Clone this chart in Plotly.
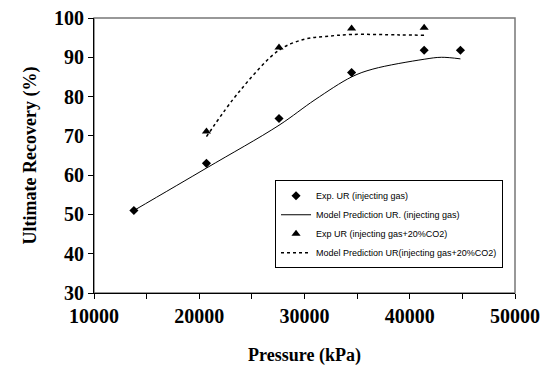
import plotly.graph_objects as go

# Experimental data (pressure kPa, ultimate recovery %)
exp_gas_p = [13790, 20684, 27579, 34474, 41369, 44816]
exp_gas_ur = [51.0, 63.0, 74.4, 86.1, 91.8, 91.8]

model_gas_p = [13790, 20684, 27579, 31000, 34474, 36500, 41369, 43000, 44816]
model_gas_ur = [51.0, 61.8, 72.7, 79.2, 85.0, 87.0, 89.5, 90.0, 89.6]

exp_co2_p = [20684, 27579, 34474, 41369]
exp_co2_ur = [71.1, 92.5, 97.3, 97.5]

model_co2_p = [20684, 23870, 27579, 30000, 32000, 34474, 39000, 41369]
model_co2_ur = [69.8, 81.5, 91.8, 94.6, 95.3, 95.8, 95.7, 95.6]

names = [
    "Exp. UR (injecting gas)",
    "Model Prediction UR. (injecting gas)",
    "Exp UR (injecting gas+20%CO2)",
    "Model Prediction UR(injecting gas+20%CO2)",
]

x_ticks = [10000, 20000, 30000, 40000, 50000]
y_ticks = [30, 40, 50, 60, 70, 80, 90, 100]

fig = go.Figure()
fig.add_trace(go.Scatter(x=exp_gas_p, y=exp_gas_ur, mode="markers", name=names[0],
                         legendgroup="a",
                         marker=dict(symbol="diamond", size=7, color="black")))
fig.add_trace(go.Scatter(x=model_gas_p, y=model_gas_ur, mode="lines", name=names[1],
                         legendgroup="b", line_shape="spline",
                         line=dict(color="black", width=1)))
fig.add_trace(go.Scatter(x=exp_co2_p, y=exp_co2_ur, mode="markers", name=names[2],
                         legendgroup="c",
                         marker=dict(symbol="triangle-up", size=8, color="black")))
fig.add_trace(go.Scatter(x=model_co2_p, y=model_co2_ur, mode="lines", name=names[3],
                         legendgroup="d", line_shape="spline",
                         line=dict(color="black", width=1.5, dash="dot")))

tickfont = dict(family="Liberation Serif", size=20, color="black")
titlefont = dict(family="Liberation Serif", size=18, color="black")

fig.update_layout(
    width=551, height=364,
    margin=dict(l=86, r=44, t=10, b=79),
    paper_bgcolor="white", plot_bgcolor="white",
    showlegend=True,
    legend=dict(x=0.43, y=0.41, xanchor="left", yanchor="top",
                bordercolor="black", borderwidth=1, bgcolor="white",
                font=dict(family="Liberation Sans", size=9, color="black"),
                tracegroupgap=16, traceorder="normal"),
    xaxis=dict(range=[10000, 50000], tickvals=x_ticks, ticktext=["<b>%d</b>" % v for v in x_ticks],
               ticks="outside", ticklen=5, tickcolor="black", showgrid=False, zeroline=False,
               showline=True, linecolor="black", linewidth=1, tickfont=tickfont, automargin=False,
               ticklabeloverflow="allow",
               minor=dict(dtick=5000, tick0=10000, ticks="outside", ticklen=5, tickcolor="black"),
               title=dict(text="<b>Pressure (kPa)</b>", font=titlefont, standoff=22)),
    yaxis=dict(range=[30, 100], tickvals=y_ticks, ticktext=["<b>%d</b>" % v for v in y_ticks],
               ticks="outside", ticklen=5, tickcolor="black", showgrid=False, zeroline=False,
               showline=True, linecolor="black", linewidth=1, tickfont=tickfont, automargin=False,
               ticklabeloverflow="allow",
               title=dict(text="<b>Ultimate Recovery (%)</b>", font=titlefont, standoff=12)),
)
fig.add_shape(type="rect", xref="paper", yref="paper", x0=0, y0=0, x1=1, y1=1,
              line=dict(color="#777777", width=1.5), layer="below")

fig.write_html("out.html")
